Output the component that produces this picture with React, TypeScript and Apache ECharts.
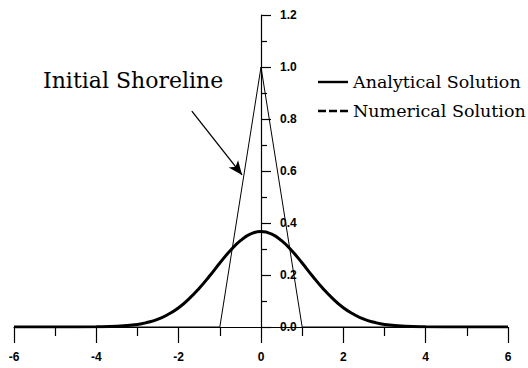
import React, { useEffect, useRef } from "react";
import * as echarts from "echarts";

// Cross-shore positions and shoreline values
const positions = [
  -6, -5, -4, -3.5, -3, -2.75, -2.5, -2.25, -2, -1.75, -1.5, -1.25, -1, -0.75, -0.5, -0.25,
  0, 0.25, 0.5, 0.75, 1, 1.25, 1.5, 1.75, 2, 2.25, 2.5, 2.75, 3, 3.5, 4, 5, 6,
];
const analytical = [
  0, 0, 0.001, 0.003, 0.01, 0.018, 0.03, 0.049, 0.074, 0.108, 0.149, 0.196, 0.246, 0.293, 0.332, 0.358,
  0.367, 0.358, 0.332, 0.293, 0.246, 0.196, 0.149, 0.108, 0.074, 0.049, 0.03, 0.018, 0.01, 0.003, 0.001, 0, 0,
];
const numerical = [
  0, 0, 0.001, 0.003, 0.01, 0.018, 0.03, 0.049, 0.074, 0.108, 0.149, 0.196, 0.246, 0.293, 0.332, 0.358,
  0.367, 0.358, 0.332, 0.293, 0.246, 0.196, 0.149, 0.108, 0.074, 0.049, 0.03, 0.018, 0.01, 0.003, 0.001, 0, 0,
];

// Initial triangular shoreline
const initialX = [-6, -1, 0, 1, 6];
const initialY = [0, 0, 1, 0, 0];

// Arrow pointing at the initial shoreline (data coordinates)
const arrowFrom = [-1.68, 0.83];
const arrowTo = [-0.46, 0.585];

const seriesNames = ["Analytical Solution", "Numerical Solution"];

const zip = (xs: number[], ys: number[]) => xs.map((x, i) => [x, ys[i]]);

// Legend keys: a solid bar and a three-dash bar
const solidKey = "path://M0,0H30V2.4H0Z";
const dashedKey = "path://M0,0H8V2.4H0Z M11,0H19V2.4H11Z M22,0H30V2.4H22Z";

export default function App() {
  const ref = useRef<HTMLDivElement>(null);

  useEffect(() => {
    if (!ref.current) return;
    const chart = echarts.init(ref.current, undefined, { renderer: "svg" });
    const sans = "Liberation Sans";
    const serif = "DejaVu Serif";
    const gridLeft = 14;
    const gridWidth = 494;
    // shift the vertical axis so it sits on x = 0
    const yAxisShift = -gridWidth / 2;

    chart.setOption({
      animation: false,
      backgroundColor: "#ffffff",
      color: ["#000", "#000", "#000"],
      grid: { left: gridLeft, top: 15, width: gridWidth, height: 312, containLabel: false },
      xAxis: {
        type: "value",
        min: -6,
        max: 6,
        interval: 2,
        axisLine: { onZero: true, lineStyle: { color: "#000", width: 1.2 } },
        axisTick: { show: true, length: 16, lineStyle: { color: "#000", width: 1.2 } },
        minorTick: { show: true, splitNumber: 2, length: 9, lineStyle: { color: "#000", width: 1.2 } },
        axisLabel: { color: "#000", fontFamily: sans, fontWeight: "bold", fontSize: 12, margin: 24 },
        splitLine: { show: false },
      },
      yAxis: {
        type: "value",
        position: "left",
        offset: yAxisShift,
        min: 0,
        max: 1.2,
        interval: 0.2,
        axisLine: { onZero: false, lineStyle: { color: "#000", width: 1.2 } },
        axisTick: { show: true, inside: true, length: 10, lineStyle: { color: "#000", width: 1.2 } },
        minorTick: { show: true, splitNumber: 2, length: 6, lineStyle: { color: "#000", width: 1.2 } },
        axisLabel: {
          inside: true,
          margin: 19,
          color: "#000",
          fontFamily: sans,
          fontWeight: "bold",
          fontSize: 12,
          formatter: (v: number) => v.toFixed(1),
        },
        splitLine: { show: false },
      },
      legend: {
        data: [
          { name: seriesNames[0], icon: solidKey },
          { name: seriesNames[1], icon: dashedKey },
        ],
        orient: "vertical",
        left: 313,
        top: 67,
        itemWidth: 30,
        itemHeight: 2.4,
        itemGap: 9,
        itemStyle: { color: "#000" },
        textStyle: { color: "#000", fontFamily: serif, fontSize: 17.5, lineHeight: 20 },
      },
      graphic: [
        {
          type: "text",
          x: 43,
          y: 80,
          style: {
            text: "Initial Shoreline",
            fill: "#000",
            font: `22px "${serif}"`,
            verticalAlign: "middle",
            align: "left",
          },
        },
      ],
      series: [
        {
          name: "Initial Shoreline",
          type: "line",
          data: zip(initialX, initialY),
          symbol: "none",
          lineStyle: { color: "#000", width: 1 },
          z: 2,
          markLine: {
            silent: true,
            symbol: ["none", "arrow"],
            symbolSize: [9, 14],
            label: { show: false },
            lineStyle: { color: "#000", width: 1.3, type: "solid" },
            data: [[{ coord: arrowFrom }, { coord: arrowTo }]],
          },
        },
        {
          name: seriesNames[1],
          type: "line",
          data: zip(positions, numerical),
          smooth: true,
          symbol: "none",
          itemStyle: { color: "#000" },
          lineStyle: { color: "#000", width: 1.5, type: [8, 4] },
          z: 3,
        },
        {
          name: seriesNames[0],
          type: "line",
          data: zip(positions, analytical),
          smooth: true,
          symbol: "none",
          itemStyle: { color: "#000" },
          lineStyle: { color: "#000", width: 3 },
          z: 4,
        },
      ],
    });

    return () => chart.dispose();
  }, []);

  return (
    <div
      ref={ref}
      style={{ position: "fixed", left: 0, top: 0, width: 528, height: 368 }}
    />
  );
}
